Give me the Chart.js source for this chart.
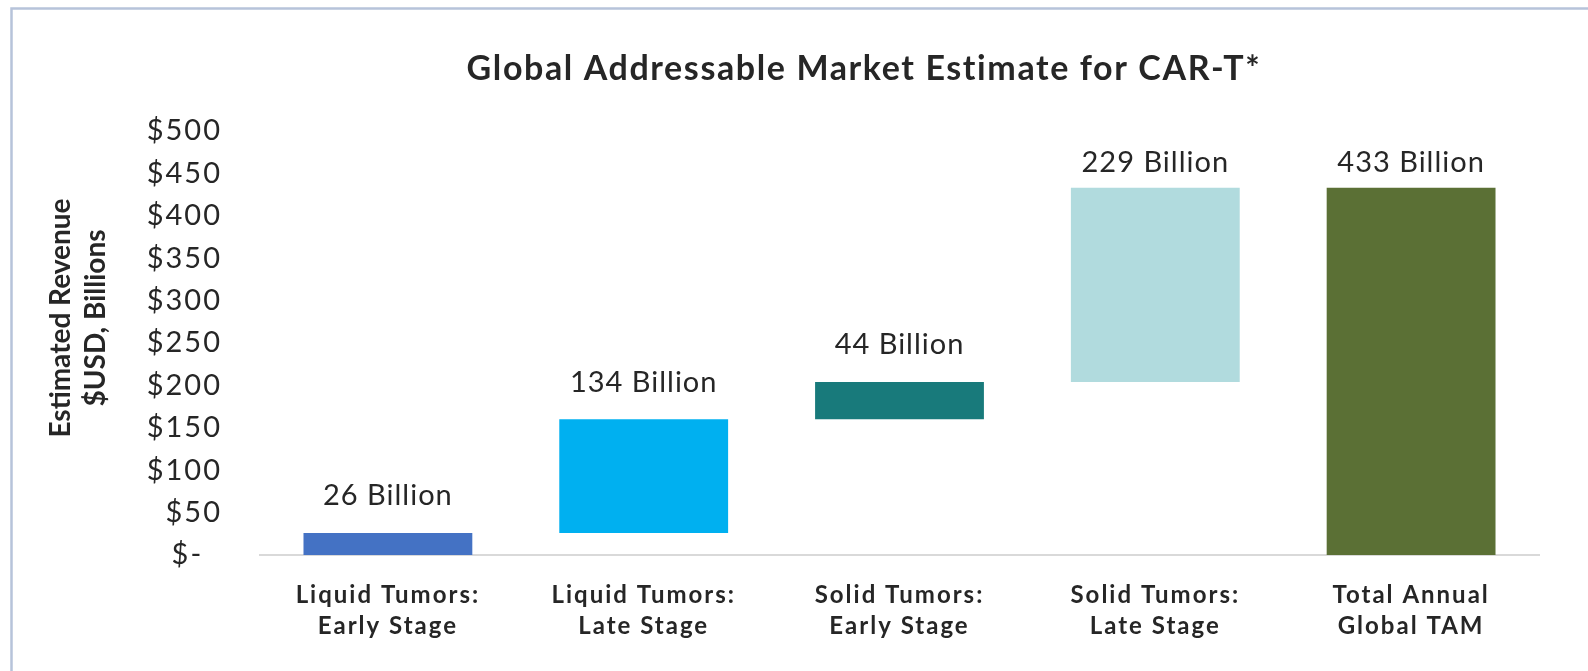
<!DOCTYPE html>
<html>
<head>
<meta charset="utf-8">
<script src="https://cdn.jsdelivr.net/npm/chart.js@4"></script>
<style>
    html, body { margin: 0; padding: 0; background: #ffffff; }
    canvas { display: block; }
</style>
</head>
<body>
<canvas id="tamChart" width="1588" height="671"></canvas>
<script>
// Waterfall: each segment adds to the running total, last bar is the total
const categories = [
    ['Liquid Tumors:', 'Early Stage'],
    ['Liquid Tumors:', 'Late Stage'],
    ['Solid Tumors:', 'Early Stage'],
    ['Solid Tumors:', 'Late Stage'],
    ['Total Annual', 'Global TAM']
];
const increments = [26, 134, 44, 229, 433];
const isTotal = [false, false, false, false, true];
const barColors = ['#4472c4', '#00b0f0', '#187a7b', '#b1dbde', '#5b7035'];
const valueLabels = ['26 Billion', '134 Billion', '44 Billion', '229 Billion', '433 Billion'];
const yTicks = [0, 50, 100, 150, 200, 250, 300, 350, 400, 450, 500];
const chartTitle = 'Global Addressable Market Estimate for CAR-T*';
const yTitle = ['Estimated Revenue', '$USD, Billions'];

(function() {
    const textColor = '#262626';
    const fontFamily = 'Lato, "Open Sans", sans-serif';

    // build floating [start, end] ranges from the increments
    let running = 0;
    const ranges = increments.map((v, i) => {
        if (isTotal[i]) return [0, v];
        const r = [running, running + v];
        running += v;
        return r;
    });

    // outer frame (only top and left are in view) + chart / axis titles
    const decorPlugin = {
        id: 'decor',
        beforeDraw(chart) {
            const ctx = chart.ctx;
            ctx.save();
            ctx.strokeStyle = '#b7c3da';
            ctx.lineWidth = 2.5;
            ctx.beginPath();
            ctx.moveTo(11.5, chart.height + 5);
            ctx.lineTo(11.5, 8.5);
            ctx.lineTo(chart.width + 5, 8.5);
            ctx.stroke();

            ctx.fillStyle = textColor;
            ctx.textAlign = 'center';
            ctx.letterSpacing = '1.6px';
            ctx.font = 'bold 34px ' + fontFamily;
            ctx.textBaseline = 'alphabetic';
            ctx.fillText(chartTitle, 864, 80);

            // rotated y axis title, two lines
            ctx.letterSpacing = '0px';
            ctx.font = 'bold 28px ' + fontFamily;
            ctx.textBaseline = 'middle';
            ctx.translate(0, 318);
            ctx.rotate(-Math.PI / 2);
            ctx.fillText(yTitle[0], 0, 61);
            ctx.fillText(yTitle[1], 0, 96);
            ctx.restore();

            // wider tracking for the tick labels, like the original font
            ctx.letterSpacing = '2px';
        }
    };

    // "xx Billion" labels above each bar
    const valueLabelPlugin = {
        id: 'valueLabels',
        afterDatasetsDraw(chart) {
            const ctx = chart.ctx;
            const meta = chart.getDatasetMeta(0);
            ctx.save();
            ctx.letterSpacing = '1px';
            ctx.font = '29px ' + fontFamily;
            ctx.fillStyle = textColor;
            ctx.textAlign = 'center';
            ctx.textBaseline = 'middle';
            meta.data.forEach((bar, i) => {
                const y = Math.max(bar.y - 37, chart.chartArea.top + 32);
                ctx.fillText(valueLabels[i], bar.x, y);
            });
            ctx.restore();
        }
    };

    new Chart(document.getElementById('tamChart'), {
        type: 'bar',
        data: {
            labels: categories,
            datasets: [{
                data: ranges,
                backgroundColor: barColors,
                borderWidth: 0,
                categoryPercentage: 0.66,
                barPercentage: 1.0
            }]
        },
        options: {
            responsive: false,
            animation: false,
            layout: { padding: { left: 0, top: 131, right: 49, bottom: 0 } },
            plugins: {
                legend: { display: false },
                tooltip: { enabled: false },
                title: { display: false }
            },
            scales: {
                x: {
                    grid: { display: false, drawTicks: false },
                    border: { display: true, color: '#d9d9d9', width: 2 },
                    ticks: {
                        color: textColor,
                        padding: 25,
                        maxRotation: 0,
                        autoSkip: false,
                        font: { family: fontFamily, size: 24, weight: 'bold', lineHeight: 1.29 }
                    },
                    afterFit(scale) { scale.height = 116; }
                },
                y: {
                    min: 0,
                    max: 500,
                    afterBuildTicks(scale) { scale.ticks = yTicks.map(v => ({ value: v })); },
                    grid: { display: false, drawTicks: false },
                    border: { display: false },
                    ticks: {
                        color: textColor,
                        padding: 38,
                        font: { family: fontFamily, size: 29 },
                        callback: v => v === 0 ? '$-  ' : '$' + v
                    },
                    afterFit(scale) { scale.width = 260; }
                }
            }
        },
        plugins: [decorPlugin, valueLabelPlugin]
    });
})();
</script>
</body>
</html>
